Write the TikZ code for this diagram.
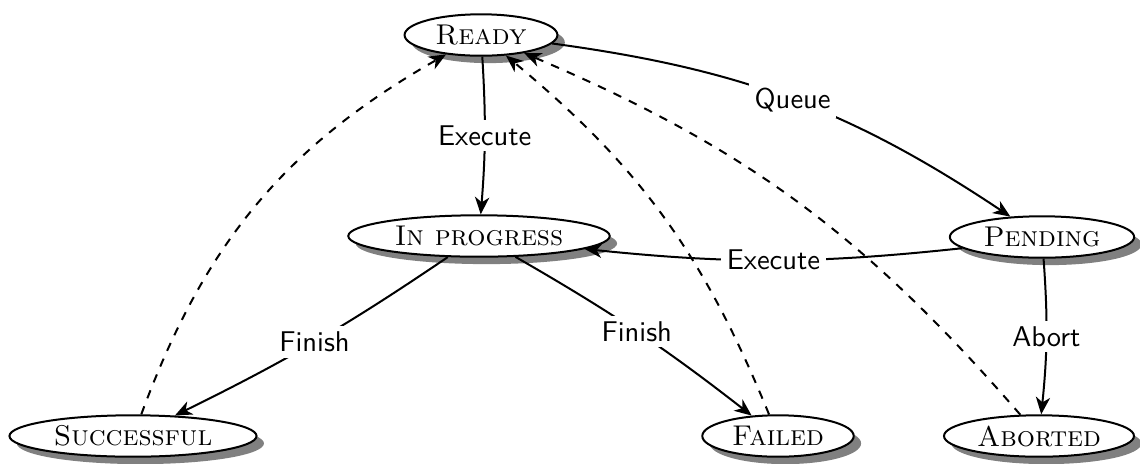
\documentclass[tikz,border=0pt]{standalone}
\usetikzlibrary{shapes.geometric,shadows,arrows.meta}
\begin{document}
\begin{tikzpicture}[x=0.35pt,y=-0.35pt,
  state/.style={ellipse,draw,line width=0.7pt,fill=white,
    drop shadow={fill=black!50,opacity=1,shadow xshift=0.6ex,shadow yshift=-0.6ex},
    font=\scshape,inner sep=0pt,minimum height=14.5pt},
  lbl/.style={fill=white,font=\sffamily,inner sep=2pt},
  tip/.style={>={Stealth[length=6pt,width=5pt,inset=1.8pt]}},
  trans/.style={->,tip,line width=0.7pt},
  back/.style={->,tip,line width=0.7pt,dashed}]
\useasboundingbox (0,0) rectangle (1140,463);

% states
\node[state,minimum width=53.5pt] (ready)   at (481,35)   {Ready};
\node[state,minimum width=91.5pt] (inprog)  at (479,236)  {In progress};
\node[state,minimum width=64.5pt] (pending) at (1042,237) {Pending};
\node[state,minimum width=86.5pt] (succ)    at (133,436)  {Successful};
\node[state,minimum width=53pt]   (failed)  at (778,436)  {Failed};
\node[state,minimum width=66.5pt] (aborted) at (1039,436) {Aborted};

% returns to the ready state
\draw[back] (succ) to[bend left=20] (ready);
\draw[back] (failed) to[bend right=14] (ready);
\draw[back] (aborted) to[bend right=13] (ready);

% forward transitions
\draw[trans] (ready) to[bend left=4] node[lbl] {Execute} (inprog);
\draw[trans] (ready) to[bend left=13] node[lbl] {Queue} (pending);
\draw[trans] (pending.188) to[bend left=6] node[lbl] {Execute} (inprog.-7);
\draw[trans] (pending) to[bend left=5] node[lbl] {Abort} (aborted);
\draw[trans] (inprog) to[bend left=4] node[lbl] {Finish} (succ);
\draw[trans] (inprog) to[bend left=4] node[lbl] {Finish} (failed);
\end{tikzpicture}
\end{document}
